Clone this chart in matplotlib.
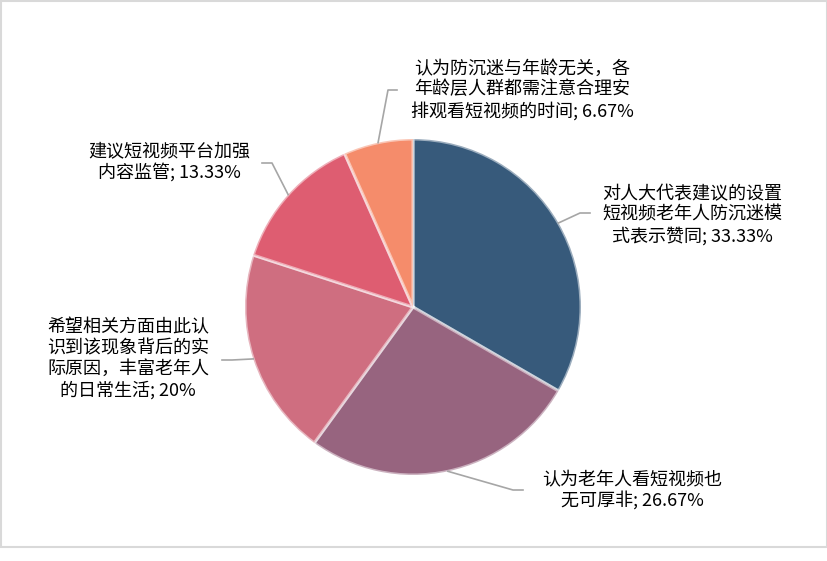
import numpy as np
import matplotlib
matplotlib.use("Agg")
import matplotlib.pyplot as plt
from matplotlib.patches import Rectangle

plt.rcParams['font.family'] = ['Noto Sans CJK SC', 'DejaVu Sans']

# --- data ---
labels = [
    "对人大代表建议的设置\n短视频老年人防沉迷模\n式表示赞同; 33.33%",
    "认为老年人看短视频也\n无可厚非; 26.67%",
    "希望相关方面由此认\n识到该现象背后的实\n际原因，丰富老年人\n的日常生活; 20%",
    "建议短视频平台加强\n内容监管; 13.33%",
    "认为防沉迷与年龄无关，各\n年龄层人群都需注意合理安\n排观看短视频的时间; 6.67%",
]
values = [33.33, 26.67, 20.0, 13.33, 6.67]
colors = ["#375a7b", "#97647f", "#cf6e80", "#de5d71", "#f58c6b"]

# label layout in pixels (text centre, elbow point, end of leader)
W, H = 828, 561
CX, CY, R = 413, 307, 168
text_px = [(692, 215), (632, 490), (128, 359), (169, 162), (522, 90)]
elbow_px = [(580, 213), (513, 490), (232, 360), (272, 163), (388, 90)]
end_px = [(590, 213), (523, 490), (222, 360), (262, 163), (397, 90)]


def to_data(p):
    return (p[0] - CX) / R, (CY - p[1]) / R


fig = plt.figure(figsize=(W / 100, H / 100), dpi=100)
ax = fig.add_axes([(CX - R) / W, (H - CY - R) / H, 2 * R / W, 2 * R / H])

wedges, _ = ax.pie(values, colors=colors, startangle=90, counterclock=False,
                   radius=1, wedgeprops=dict(edgecolor=(1, 1, 1, 0.5), linewidth=2.2))
ax.set_xlim(-1, 1)
ax.set_ylim(-1, 1)
ax.set_aspect("equal")
ax.axis("off")

for w, lab, tp, ep, en in zip(wedges, labels, text_px, elbow_px, end_px):
    ang = np.deg2rad((w.theta1 + w.theta2) / 2)
    x0, y0 = np.cos(ang), np.sin(ang)
    x1, y1 = to_data(ep)
    x2, y2 = to_data(en)
    ax.plot([x0, x1, x2], [y0, y1, y2], color="#a6a6a6", lw=1.2, clip_on=False)
    tx, ty = to_data(tp)
    ax.text(tx, ty, lab, ha="center", va="center", fontsize=13, color="black",
            linespacing=1.2, clip_on=False)

# outer frame
fig.patches.append(Rectangle((1 / W, (H - 547) / H), 826 / W, 546 / H,
                             transform=fig.transFigure, fill=False,
                             edgecolor="#d9d9d9", linewidth=1.5))

fig.savefig("out.png", dpi=100)
